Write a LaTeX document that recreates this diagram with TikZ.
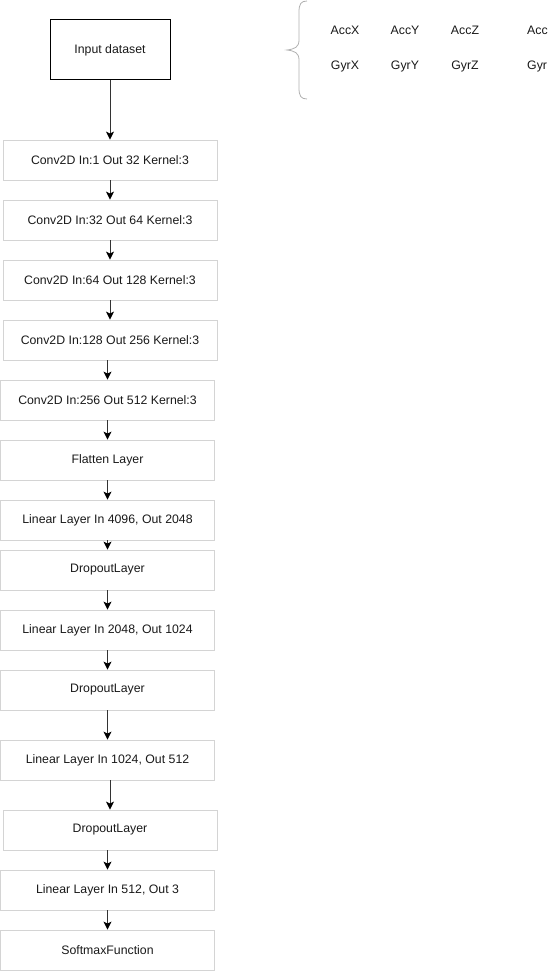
\documentclass[tikz,border=0pt]{standalone}
\usepackage{fontspec}
\setmainfont{Liberation Sans}
\usetikzlibrary{arrows.meta}
\definecolor{boxgray}{HTML}{D4D4D4}
\definecolor{bracegray}{HTML}{B0B0B0}
\definecolor{arrowgray}{HTML}{333333}
\begin{document}
\begin{tikzpicture}[x=1pt,y=-1pt,
  every node/.style={font=\fontsize{12.3}{14}\selectfont, text=black!90},
  layer/.style={draw=boxgray, line width=0.8pt, rectangle, minimum width=214pt, minimum height=40pt, inner sep=0pt},
  inbox/.style={draw=black, line width=1pt, rectangle, minimum width=120pt, minimum height=60pt, inner sep=0pt},
  lbl/.style={inner sep=0pt},
  arr/.style={draw=arrowgray, line width=1pt, -{Stealth[length=8pt,width=8pt,inset=2pt,color=black]}}
]
\useasboundingbox (0,0) rectangle (558,971);

\node[inbox] (in) at (110,50) {Input dataset};

\node[layer] (c1) at (110,160) {Conv2D In:1 Out 32 Kernel:3};
\node[layer] (c2) at (110,220) {Conv2D In:32 Out 64 Kernel:3};
\node[layer] (c3) at (110,280) {Conv2D In:64 Out 128 Kernel:3};
\node[layer] (c4) at (110,340) {Conv2D In:128 Out 256 Kernel:3};
\node[layer] (c5) at (107.5,400) {Conv2D In:256 Out 512 Kernel:3};
\node[layer] (fl) at (107.5,460) {Flatten Layer};
\node[layer] (l1) at (107.5,520) {Linear Layer In 4096, Out 2048};
\node[layer] (d1) at (107.5,570) {DropoutLayer};
\node[layer] (l2) at (107.5,630) {Linear Layer In 2048, Out 1024};
\node[layer] (d2) at (107.5,690) {DropoutLayer};
\node[layer] (l3) at (107.5,760) {Linear Layer In 1024, Out 512};
\node[layer] (d3) at (110,830) {DropoutLayer};
\node[layer] (l4) at (107.5,890) {Linear Layer In 512, Out 3};
\node[layer] (sm) at (107.5,950) {SoftmaxFunction};

\foreach \s/\t in {in/c1,c1/c2,c2/c3,c3/c4,c4/c5,c5/fl,fl/l1,l1/d1,d1/l2,l2/d2,d2/l3,l3/d3,d3/l4,l4/sm}
  \draw[arr] (\s.south -| \t.north) -- (\t.north);

% brace
\draw[bracegray, line width=0.8pt]
  (307,1) .. controls (301,1) and (299,4) .. (299,12) -- (299,40)
  .. controls (299,47) and (295,49) .. (287,50)
  .. controls (295,51) and (299,53) .. (299,60) -- (299,88)
  .. controls (299,96) and (301,99) .. (307,99);

\node[lbl] (ax) at (345,30) {AccX};
\node[lbl] (ay) at (405,30) {AccY};
\node[lbl] (az) at (465,30) {AccZ};
\node[lbl, anchor=west] (aw) at (527,30) {Acc};
\node[lbl] (gx) at (345,66) {GyrX};
\node[lbl] (gy) at (405,66) {GyrY};
\node[lbl] (gz) at (465,66) {GyrZ};
\node[lbl, anchor=west] (gw) at (527,66) {Gyr};
\end{tikzpicture}
\end{document}
